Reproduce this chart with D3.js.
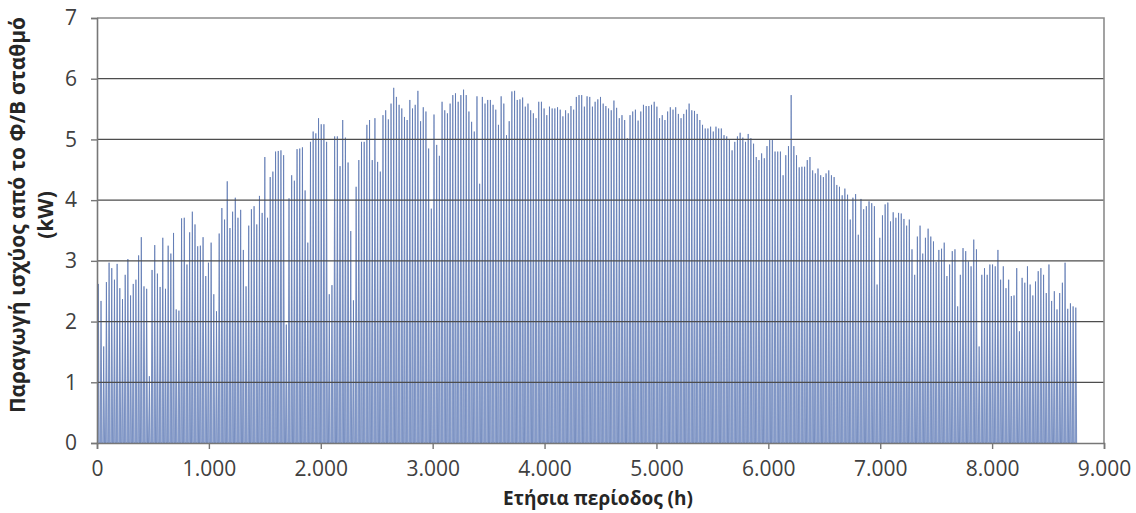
<!DOCTYPE html>
<html>
<head>
<meta charset="utf-8">
<script src="https://cdn.jsdelivr.net/npm/d3@7/dist/d3.min.js"></script>
<style>
  html, body { margin: 0; padding: 0; background: #ffffff; }
  svg { display: block; }
  text { font-family: "Open Sans", "DejaVu Sans", sans-serif; }
</style>
</head>
<body>
<svg id="chart" width="1136" height="513"></svg>
<script>
// ---- data: daily peak PV output (kW), one value per day of the year
const dailyPeak = [
  2.62, 2.34, 1.59, 2.65, 2.97, 2.88, 2.69, 2.95, 2.55, 2.37,
  2.77, 3.03, 2.43, 2.62, 2.69, 3.09, 3.39, 2.58, 2.54, 1.10,
  2.85, 3.26, 2.79, 2.57, 3.38, 2.54, 3.25, 3.12, 3.46, 2.20,
  2.18, 3.70, 3.71, 2.94, 3.47, 3.81, 3.60, 3.24, 3.25, 3.39,
  2.75, 2.97, 3.30, 2.45, 2.17, 3.45, 3.87, 3.68, 4.31, 3.54,
  3.81, 4.04, 3.71, 3.84, 3.18, 2.58, 3.58, 3.85, 3.90, 3.60,
  4.07, 3.79, 4.71, 3.71, 4.38, 4.47, 4.80, 4.81, 4.82, 4.74,
  1.95, 4.03, 4.41, 4.32, 4.84, 4.85, 4.87, 4.16, 3.30, 4.96,
  5.13, 5.10, 5.35, 5.25, 5.25, 4.96, 2.45, 2.60, 5.05, 5.05,
  4.56, 5.32, 5.03, 4.62, 3.49, 2.35, 4.22, 4.66, 4.96, 4.96,
  5.24, 5.32, 4.66, 5.35, 4.63, 4.47, 5.40, 5.48, 5.33, 5.59,
  5.85, 5.70, 5.57, 5.51, 5.37, 5.32, 5.65, 5.51, 5.57, 5.80,
  5.30, 5.53, 5.46, 4.85, 3.86, 5.41, 4.91, 4.73, 5.62, 5.48,
  5.43, 5.59, 5.73, 5.76, 5.62, 5.73, 5.82, 5.73, 5.46, 5.29,
  5.13, 5.71, 4.27, 5.70, 5.59, 5.65, 5.65, 5.57, 5.49, 5.24,
  5.71, 5.59, 5.07, 5.30, 5.79, 5.80, 5.65, 5.66, 5.69, 5.54,
  5.59, 5.48, 5.43, 5.35, 5.62, 5.62, 5.51, 5.40, 5.54, 5.51,
  5.51, 5.53, 5.49, 5.38, 5.48, 5.43, 5.55, 5.49, 5.70, 5.73,
  5.73, 5.54, 5.71, 5.70, 5.54, 5.62, 5.66, 5.70, 5.59, 5.55,
  5.51, 5.48, 5.64, 5.52, 5.35, 5.40, 5.32, 5.02, 5.40, 5.46,
  5.49, 5.31, 5.46, 5.57, 5.55, 5.55, 5.57, 5.62, 5.54, 5.35,
  5.40, 5.32, 5.46, 5.53, 5.49, 5.53, 5.42, 5.35, 5.42, 5.49,
  5.59, 5.48, 5.47, 5.42, 5.32, 5.24, 5.18, 5.18, 5.21, 5.13,
  5.21, 5.18, 5.18, 5.07, 5.05, 5.00, 4.82, 4.96, 5.05, 5.11,
  5.03, 4.96, 5.09, 5.02, 4.93, 4.71, 4.66, 4.77, 4.69, 4.89,
  4.99, 4.99, 4.80, 4.80, 4.80, 4.41, 4.74, 4.89, 5.73, 4.89,
  4.74, 4.54, 4.55, 4.55, 4.66, 4.71, 4.49, 4.44, 4.52, 4.41,
  4.38, 4.44, 4.49, 4.41, 4.38, 4.25, 4.22, 4.08, 4.19, 4.09,
  3.68, 4.04, 4.10, 3.43, 4.02, 3.85, 3.90, 3.98, 3.95, 3.90,
  2.61, 3.38, 3.75, 3.93, 3.96, 3.65, 3.80, 3.71, 3.79, 3.78,
  3.69, 3.58, 3.68, 3.19, 2.77, 3.40, 3.58, 3.12, 3.38, 3.53,
  3.40, 3.32, 2.98, 3.18, 3.20, 3.30, 2.75, 2.94, 3.16, 3.19,
  2.25, 2.77, 3.21, 3.16, 2.99, 2.91, 3.35, 3.19, 1.59, 2.77,
  2.88, 2.77, 2.94, 2.94, 2.91, 3.18, 2.69, 2.91, 2.55, 2.69,
  2.42, 2.43, 2.88, 1.84, 2.72, 2.64, 2.91, 2.61, 2.43, 2.66,
  2.83, 2.88, 2.77, 2.47, 2.94, 2.34, 2.50, 2.20, 2.47, 2.64,
  2.97, 2.21, 2.30, 2.25, 2.23
];
const hoursPerDay = 24;
const xTicks = [0, 1000, 2000, 3000, 4000, 5000, 6000, 7000, 8000, 9000];
const xTickLabels = ["0", "1.000", "2.000", "3.000", "4.000", "5.000", "6.000", "7.000", "8.000", "9.000"];
const yTicks = [0, 1, 2, 3, 4, 5, 6, 7];
const xTitle = "Ετήσια περίοδος (h)";
const yTitleLines = ["Παραγωγή ισχύος από το Φ/Β σταθμό", "(kW)"];

// ---- layout
const margin = { left: 97, top: 18, right: 32, bottom: 70 };
const W = 1136, H = 513;
const iw = W - margin.left - margin.right;
const ih = H - margin.top - margin.bottom;

const svg = d3.select("#chart");
const g = svg.append("g").attr("transform", `translate(${margin.left},${margin.top})`);

const x = d3.scaleLinear().domain([0, 9000]).range([0, iw]);
const y = d3.scaleLinear().domain([0, 7]).range([ih, 0]);

// daily profile points: night zero, midday peak, night zero
const pts = [];
dailyPeak.forEach((p, d) => {
  const h0 = d * hoursPerDay;
  pts.push([h0 + 4.5, 0]);
  pts.push([h0 + 12, p]);
  pts.push([h0 + 19.5, 0]);
});

g.append("path")
  .datum(pts)
  .attr("fill", "#a3b4da")
  .attr("stroke", "none")
  .attr("d", d3.area().x(d => x(d[0])).y0(y(0)).y1(d => y(d[1])));

g.append("path")
  .datum(pts)
  .attr("fill", "none")
  .attr("stroke", "#5370ad")
  .attr("stroke-width", 0.7)
  .attr("stroke-linejoin", "miter")
  .attr("d", d3.line().x(d => x(d[0])).y(d => y(d[1])));

// gridlines
g.append("g")
  .selectAll("line")
  .data(yTicks.filter(t => t > 0 && t < 7))
  .join("line")
  .attr("x1", 0).attr("x2", iw)
  .attr("y1", d => y(d)).attr("y2", d => y(d))
  .attr("stroke", "#4d4d4d")
  .attr("stroke-width", 1.2);

// plot border (top + right)
g.append("path")
  .attr("d", `M0,${y(7)}H${iw}V${ih}`)
  .attr("fill", "none")
  .attr("stroke", "#8c8c8c")
  .attr("stroke-width", 1.6);

// axes
const xAxis = d3.axisBottom(x)
  .tickValues(xTicks)
  .tickFormat((d, i) => xTickLabels[i])
  .tickSize(6)
  .tickPadding(12);
const yAxis = d3.axisLeft(y)
  .tickValues(yTicks)
  .tickFormat(d3.format("d"))
  .tickSize(6)
  .tickPadding(14);

const gx = g.append("g").attr("transform", `translate(0,${ih})`).call(xAxis);
const gy = g.append("g").call(yAxis);
[gx, gy].forEach(a => {
  a.select(".domain").attr("stroke", "#777").attr("stroke-width", 1.6);
  a.selectAll(".tick line").attr("stroke", "#777").attr("stroke-width", 1.4);
  a.selectAll(".tick text")
    .attr("fill", "#404040")
    .style("font-size", "21px")
    .style("font-family", "'Open Sans', sans-serif");
});

// titles
svg.append("text")
  .attr("x", 598)
  .attr("y", 505)
  .attr("text-anchor", "middle")
  .attr("fill", "#262626")
  .style("font-size", "19px")
  .style("font-weight", "bold")
  .text(xTitle);

const yt = svg.append("text")
  .attr("transform", "translate(0,215) rotate(-90)")
  .attr("text-anchor", "middle")
  .attr("fill", "#262626")
  .style("font-size", "21px")
  .style("font-weight", "bold");
yTitleLines.forEach((line, i) => {
  yt.append("tspan")
    .attr("x", 0)
    .attr("y", 25 + i * 28)
    .text(line);
});
</script>
</body>
</html>
